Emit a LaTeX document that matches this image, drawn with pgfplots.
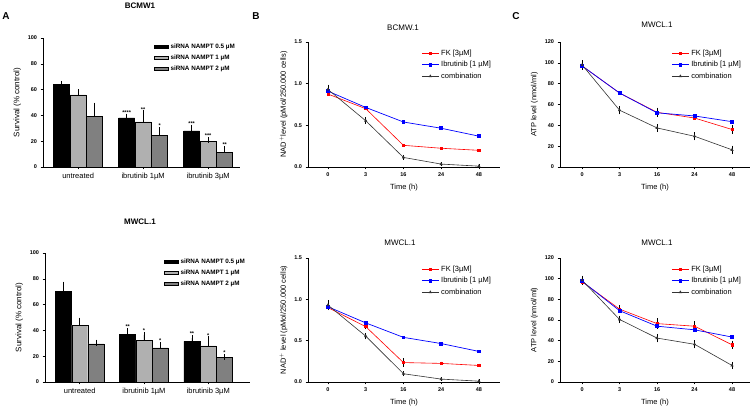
\documentclass[border=0pt]{standalone}
\usepackage{pgfplots}
\pgfplotsset{compat=1.18}
\usepackage{fontspec}
\setmainfont{Liberation Sans}
\definecolor{lgray}{HTML}{B0B0B0}
\definecolor{dgray}{HTML}{808080}
\definecolor{comb}{HTML}{333333}
\pgfplotsset{
  gp/.style={scale only axis, anchor=south west, clip=false,
    axis x line*=bottom, axis y line*=left,
    axis line style={-, line width=0.6pt},
    tick align=outside, major tick length=2.5pt,
    tick style={black, line width=0.5pt},
    ticklabel style={font=\fontsize{5.5}{6}\selectfont\bfseries},
    /pgf/number format/assume math mode=true,
    label style={font=\fontsize{7.5}{8}\selectfont},
  },
  barax/.style={gp, width=197pt, height=129pt, xmin=-0.54, ymin=0, ymax=100,
    ytick={0,20,...,100}, xtick={0,1,2},
    xticklabels={untreated, ibrutinib 1µM, ibrutinib 3µM},
    xticklabel style={font=\fontsize{7.5}{8}\selectfont\mdseries},
    ylabel={Survival (\% control)},
    ylabel style={font=\fontsize{8}{9}\selectfont},
    legend style={draw=none, fill=none, font=\fontsize{6.3}{7}\selectfont\bfseries,
      at={(1,0.99)}, anchor=north east, row sep=1pt},
    legend cell align=left,
  },
  bars/.style={ybar, bar shift=0pt, bar width=16pt, draw=black, line width=0.4pt,
    legend image code/.code={\draw[##1] (0pt,-1.8pt) rectangle (14pt,1.8pt);},
    error bars/y dir=plus, error bars/y explicit,
    error bars/error bar style={black, line width=0.6pt},
    error bars/error mark options={black, mark size=3pt, line width=0.6pt}},
  lineax/.style={gp, width=192pt, height=125pt, xmin=-0.53, xmax=4.56,
    xtick={0,...,4}, xticklabels={0,3,16,24,48}, xlabel={Time (h)},
    legend style={draw=none, fill=none, font=\fontsize{7.5}{8}\selectfont,
      at={(0.98,0.97)}, anchor=north east, row sep=0.5pt},
    legend cell align=left,
  },
  fk/.style={red, line width=0.6pt, mark=square*, mark size=1.1pt},
  ib/.style={blue, line width=0.7pt, mark=square*, mark size=1.4pt},
  cb/.style={comb, line width=0.6pt, mark=triangle*, mark size=1.3pt},
  eb/.style={error bars/y dir=both, error bars/y explicit,
    error bars/error bar style={black, line width=0.5pt},
    error bars/error mark options={black, mark size=1.6pt, line width=0.5pt}},
}
\begin{document}
\begin{tikzpicture}
\tikzset{star/.style={anchor=south, inner sep=0.8pt, font=\fontsize{5.5}{5.5}\selectfont\bfseries}}
% ---------- Panel A top ----------
\node[font=\fontsize{10}{10}\selectfont\bfseries] at (6pt,398pt) {A};
\node[font=\fontsize{8}{9}\selectfont\bfseries] at (140pt,408pt) {BCMW1};
\begin{axis}[barax, at={(43pt,247pt)}, xmax=2.49]
\addplot[bars, fill=black] coordinates {(-0.254,64) +- (0,0.5) (0.746,38) +- (0,1) (1.746,28) +- (0,2.5)};
\addlegendentry{siRNA NAMPT 0.5 µM}
\addplot[bars, fill=lgray] coordinates {(0,56) +- (0,2) (1,35) +- (0,6.5) (2,20) +- (0,0.6)};
\addlegendentry{siRNA NAMPT 1 µM}
\addplot[bars, fill=dgray] coordinates {(0.254,39.5) +- (0,8) (1.254,24.5) +- (0,4) (2.254,11.5) +- (0,2.5)};
\addlegendentry{siRNA NAMPT 2 µM}
\node[star] at (axis cs:0.746,40) {****};
\node[star] at (axis cs:1,42.5) {**};
\node[star] at (axis cs:1.254,29.5) {*};
\node[star] at (axis cs:1.746,31.5) {***};
\node[star] at (axis cs:2,22) {***};
\node[star] at (axis cs:2.254,15) {**};
\end{axis}
% ---------- Panel A bottom ----------
\node[font=\fontsize{8}{9}\selectfont\bfseries] at (140pt,192pt) {MWCL.1};
\begin{axis}[barax, at={(45pt,32pt)}, width=205pt, xmax=2.65]
\addplot[bars, fill=black] coordinates {(-0.254,70) +- (0,5.5) (0.746,37) +- (0,2.5) (1.746,31.5) +- (0,2.5)};
\addlegendentry{siRNA NAMPT 0.5 µM}
\addplot[bars, fill=lgray] coordinates {(0,44) +- (0,3.5) (1,32.5) +- (0,4) (2,28) +- (0,5)};
\addlegendentry{siRNA NAMPT 1 µM}
\addplot[bars, fill=dgray] coordinates {(0.254,29.5) +- (0,1) (1.254,26.5) +- (0,2) (2.254,19) +- (0,0.3)};
\addlegendentry{siRNA NAMPT 2 µM}
\node[star] at (axis cs:0.746,40.5) {**};
\node[star] at (axis cs:1,37.5) {*};
\node[star] at (axis cs:1.254,29.5) {*};
\node[star] at (axis cs:1.746,35) {**};
\node[star] at (axis cs:2,34) {*};
\node[star] at (axis cs:2.254,20.5) {*};
\end{axis}
% ---------- Panel B top ----------
\node[font=\fontsize{10}{10}\selectfont\bfseries] at (256pt,398pt) {B};
\node[font=\fontsize{8}{9}\selectfont] at (403pt,386pt) {BCMW.1};
\begin{axis}[lineax, at={(308pt,247pt)}, ymin=0, ymax=1.5, ytick={0,0.5,1,1.5},
  yticklabel style={/pgf/number format/.cd, fixed, fixed zerofill, precision=1},
  ylabel={NAD$^{+}$level (pMol/250.000 cells)}]
\addplot[fk] coordinates {(0,0.875) (1,0.70) (2,0.26) (3,0.225) (4,0.20)};
\addlegendentry{FK [3µM]}
\addplot[ib] coordinates {(0,0.91) (1,0.715) (2,0.54) (3,0.465) (4,0.37)};
\addlegendentry{Ibrutinib [1 µM]}
\addplot[cb, eb] coordinates {(0,0.93) +- (0,0.04) (1,0.555) +- (0,0.02) (2,0.115) +- (0,0.01) (3,0.035) +- (0,0.005) (4,0.01) +- (0,0.005)};
\addlegendentry{combination}
\end{axis}
% ---------- Panel B bottom ----------
\node[font=\fontsize{8}{9}\selectfont] at (400pt,171pt) {MWCL.1};
\begin{axis}[lineax, at={(308pt,32pt)}, height=124pt, ymin=0, ymax=1.5, ytick={0,0.5,1,1.5},
  yticklabel style={/pgf/number format/.cd, fixed, fixed zerofill, precision=1},
  ylabel={NAD$^{+}$ level (pMol/250.000 cells)}]
\addplot[fk, eb] coordinates {(0,0.90) +- (0,0) (1,0.67) +- (0,0.01) (2,0.235) +- (0,0.03) (3,0.225) +- (0,0) (4,0.20) +- (0,0)};
\addlegendentry{FK [3µM]}
\addplot[ib] coordinates {(0,0.91) (1,0.715) (2,0.54) (3,0.465) (4,0.37)};
\addlegendentry{Ibrutinib [1 µM]}
\addplot[cb, eb] coordinates {(0,0.93) +- (0,0.04) (1,0.555) +- (0,0.02) (2,0.10) +- (0,0.01) (3,0.035) +- (0,0.005) (4,0.01) +- (0,0.005)};
\addlegendentry{combination}
\end{axis}
% ---------- Panel C top ----------
\node[font=\fontsize{10}{10}\selectfont\bfseries] at (516pt,398pt) {C};
\node[font=\fontsize{8}{9}\selectfont] at (657pt,389pt) {MWCL.1};
\begin{axis}[lineax, at={(560pt,247pt)}, width=190pt, xmin=-0.59, xmax=4.48,
  ymin=0, ymax=120, ytick={0,20,...,120}, ylabel={ATP level (nmol/ml)}]
\addplot[fk, eb] coordinates {(0,97) +- (0,0) (1,71) +- (0,0) (2,52.5) +- (0,3) (3,47) +- (0,0) (4,36) +- (0,2.5)};
\addlegendentry{FK [3µM]}
\addplot[ib] coordinates {(0,97) (1,71) (2,52) (3,49) (4,43.5)};
\addlegendentry{Ibrutinib [1 µM]}
\addplot[cb, eb] coordinates {(0,98) +- (0,3) (1,54.5) +- (0,2.5) (2,37.5) +- (0,2) (3,29.5) +- (0,2.5) (4,16.5) +- (0,2.5)};
\addlegendentry{combination}
\end{axis}
% ---------- Panel C bottom ----------
\node[font=\fontsize{8}{9}\selectfont] at (657pt,171pt) {MWCL.1};
\begin{axis}[lineax, at={(560pt,32pt)}, width=190pt, height=124pt, xmin=-0.59, xmax=4.48,
  ymin=0, ymax=120, ytick={0,20,...,120}, ylabel={ATP level (nmol/ml)}]
\addplot[fk, eb] coordinates {(0,97) +- (0,0) (1,70.5) +- (0,2) (2,56.5) +- (0,3.5) (3,54) +- (0,3) (4,36) +- (0,2.5)};
\addlegendentry{FK [3µM]}
\addplot[ib] coordinates {(0,97.5) (1,69) (2,54) (3,50.5) (4,43.5)};
\addlegendentry{Ibrutinib [1 µM]}
\addplot[cb, eb] coordinates {(0,98.5) +- (0,3) (1,60.5) +- (0,2) (2,42.5) +- (0,2.5) (3,36.5) +- (0,2.5) (4,16) +- (0,2)};
\addlegendentry{combination}
\end{axis}
\pgfresetboundingbox
\useasboundingbox (0pt,0pt) rectangle (755pt,414pt);
\end{tikzpicture}
\end{document}
